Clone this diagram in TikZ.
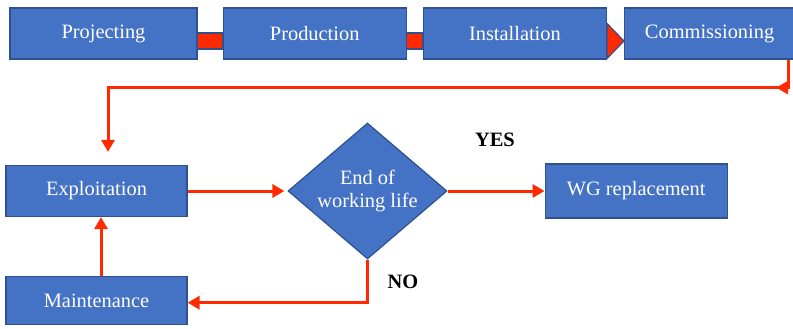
\documentclass[tikz,border=0pt]{standalone}
\usepackage{fontspec}
\setmainfont{Liberation Serif}
\usetikzlibrary{shapes.geometric,arrows.meta,positioning,calc}
\definecolor{boxblue}{HTML}{4472C4}
\definecolor{boxedge}{HTML}{2F528F}
\definecolor{flowred}{HTML}{FF2A00}
\tikzset{stage/.style={draw=boxedge, fill=boxblue, text=white, line width=0.6pt, minimum height=25.5pt, inner sep=0pt, font=\rmfamily\fontsize{10.2}{12}\selectfont}}
\tikzset{decision/.style={diamond, draw=boxedge, fill=boxblue, text=white, line width=0.6pt, aspect=1.17, inner sep=0pt, minimum width=79.5pt, minimum height=68pt, align=center, font=\rmfamily\fontsize{10.2}{11.5}\selectfont}}
\tikzset{flow/.style={draw=flowred, line width=1.5pt, -{Triangle[length=6pt,width=6.5pt]}}}
\tikzset{bar/.style={draw=boxedge, fill=flowred, line width=0.6pt}}
\tikzset{answer/.style={font=\rmfamily\bfseries\fontsize{10.2}{12}\selectfont}}

\begin{document}
\begin{tikzpicture}[x=0.5pt, y=-0.5pt]
\useasboundingbox (0,0) rectangle (793,328);
\node [stage, minimum width=93.5pt] (proj) at (103.5,33.5) {Projecting};
\node [stage, minimum width=91.5pt, right=12.5pt of proj] (prod) {Production};
\node [stage, minimum width=91.5pt, right=8pt of prod] (inst) {Installation};
\node [stage, minimum width=85pt, right=8.5pt of inst] (comm) {Commissioning};
\node [stage, minimum width=90.5pt] (expl) at (96.5,191) {Exploitation};
\node [stage, minimum width=90.5pt, minimum height=24pt, below=29.5pt of expl] (main) {Maintenance};
\node [decision] (eol) at (367.5,191) {End of\\working life};
\node [stage, minimum width=91pt, minimum height=27pt, right=48.5pt of eol] (wg) {WG replacement};
\node [answer] (yes) at (495,140) {YES};
\node [answer] (no) at (403,282) {NO};
%Block arrow
\draw [bar] ($(proj.east)+(0,-0.5)$) rectangle ($(prod.west)+(0,15.5)$);
\draw [bar] ($(prod.east)+(0,-0.5)$) rectangle ($(inst.west)+(0,15.5)$);
\draw [bar] ($(inst.east)+(0,-10)$) -- ($(comm.west)+(0,7.5)$) -- ($(inst.east)+(0,25)$) -- cycle;
%Edge
\draw [flow] ($(comm.south east)+(-7,0)$) -- ++(0,28) coordinate (bend) -- ++(-12,0);
\draw [flow] (bend) -| ($(expl.north)+(11.5,-13)$);
\draw [flow, shorten >=1.5pt] (expl.east) -- (expl.east -| eol.west);
\draw [flow] (eol.east) -- (eol.east -| wg.west);
\draw [flow] ($(main.north)+(4.5,0)$) -- ($(expl.south)+(4.5,0)$);
\draw [flow] (eol.south) |- ($(main.east)+(0,2)$);
\end{tikzpicture}
\end{document}
